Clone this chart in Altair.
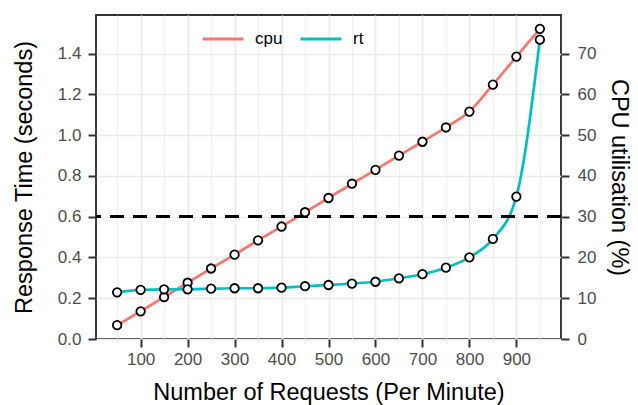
import altair as alt
import pandas as pd

# ---- data ----
requests = [50, 100, 150, 200, 250, 300, 350, 400, 450, 500,
            550, 600, 650, 700, 750, 800, 850, 900, 950]
rt = [0.229, 0.241, 0.244, 0.244, 0.247, 0.249, 0.249, 0.252, 0.259, 0.265,
      0.272, 0.281, 0.298, 0.318, 0.350, 0.401, 0.491, 0.699, 1.469]
cpu = [3.4, 6.8, 10.3, 13.8, 17.3, 20.7, 24.2, 27.6, 31.1, 34.6,
       38.1, 41.5, 45.0, 48.4, 51.9, 55.8, 62.4, 69.3, 76.1]
series_names = ["cpu", "rt"]
series_colors = ["#F8766D", "#00BFC4"]
threshold = 0.6
cpu_per_second = 50  # secondary axis: CPU % = seconds * 50

x_breaks = [50, 100, 150, 200, 250, 300, 350, 400, 450, 500,
            550, 600, 650, 700, 750, 800, 850, 900, 950]
y_breaks = [0.0, 0.1, 0.2, 0.3, 0.4, 0.5, 0.6, 0.7, 0.8, 0.9,
            1.0, 1.1, 1.2, 1.3, 1.4, 1.5]
cpu_breaks = [0, 10, 20, 30, 40, 50, 60, 70]

rows = []
for x, v in zip(requests, cpu):
    rows.append({"requests": x, "series": "cpu", "value": v})
for x, v in zip(requests, rt):
    rows.append({"requests": x, "series": "rt", "value": v})
df = pd.DataFrame(rows)
df_cpu = pd.DataFrame({"requests": requests, "cpu": cpu})

FONT = "Liberation Sans"
x_dom = [5, 995]
y_dom = [0, 1.59]

x_major = "datum.value % 100 === 0"
y_major = "round(datum.value * 10) % 2 === 0"

x_enc = alt.X(
    "requests:Q",
    scale=alt.Scale(domain=x_dom, nice=False, zero=False),
    axis=alt.Axis(
        values=x_breaks,
        title="Number of Requests (Per Minute)",
        labelExpr=f"{x_major} ? format(datum.value, 'd') : ''",
        gridWidth={"condition": {"test": x_major, "value": 1.7}, "value": 0.85},
        tickOpacity={"condition": {"test": x_major, "value": 1}, "value": 0},
    ),
)
y_enc = alt.Y(
    "y_s:Q",
    scale=alt.Scale(domain=y_dom, nice=False, zero=False),
    axis=alt.Axis(
        values=y_breaks,
        title="Response Time (seconds)",
        labelExpr=f"{y_major} ? format(datum.value, '.1f') : ''",
        gridWidth={"condition": {"test": y_major, "value": 1.7}, "value": 0.85},
        tickOpacity={"condition": {"test": y_major, "value": 1}, "value": 0},
    ),
)

base = alt.Chart(df).transform_calculate(
    y_s=f"datum.series === 'cpu' ? datum.value / {cpu_per_second} : datum.value"
)

lines = base.mark_line(strokeWidth=2.7, interpolate="monotone").encode(
    x=x_enc,
    y=y_enc,
    color=alt.Color(
        "series:N",
        scale=alt.Scale(domain=series_names, range=series_colors),
        legend=alt.Legend(
            orient="none", legendX=105, legendY=2, direction="horizontal",
            title=None, symbolType="stroke", symbolSize=1681,
            symbolStrokeWidth=2.8, labelFontSize=17, labelFont=FONT,
            labelColor="black", labelOffset=10, columnPadding=11, padding=0,
        ),
    ),
)

rule = alt.Chart(df).mark_rule(
    color="black", strokeWidth=2.4, strokeDash=[14, 9]
).encode(y=alt.datum(threshold))

points = base.mark_circle(
    fill="white", stroke="black", strokeWidth=1.8, size=72, opacity=1
).encode(x=x_enc, y=y_enc)

main = alt.layer(lines, rule, points)

right_axis = alt.Chart(df_cpu).mark_point(opacity=0).encode(
    y=alt.Y(
        "cpu:Q",
        scale=alt.Scale(domain=[y_dom[0] * cpu_per_second, y_dom[1] * cpu_per_second],
                        nice=False, zero=False),
        axis=alt.Axis(orient="right", values=cpu_breaks, grid=False,
                      title="CPU utilisation (%)", titleAngle=90),
    )
)

chart = alt.layer(main, right_axis).resolve_scale(y="independent").properties(
    width=465, height=324,
    autosize=alt.AutoSizeParams(type="none"),
    padding={"left": 96, "top": 15, "right": 77, "bottom": 66},
).configure_view(
    stroke="#333333", strokeWidth=1.9
).configure_axis(
    domain=False,
    gridColor="#EBEBEB",
    tickColor="#333333",
    tickWidth=2,
    tickSize=8,
    labelFont=FONT,
    labelFontSize=17,
    labelColor="#4D4D4D",
    labelPadding=7,
    titleFont=FONT,
    titleFontSize=23.5,
    titleFontWeight="normal",
    titleColor="black",
).configure_axisX(
    labelPadding=4,
    titlePadding=13,
).configure_axisLeft(
    titlePadding=21,
).configure_axisRight(
    labelPadding=8,
    titlePadding=11,
)

chart.save("out.html", embed_options={"renderer": "svg", "actions": False})
